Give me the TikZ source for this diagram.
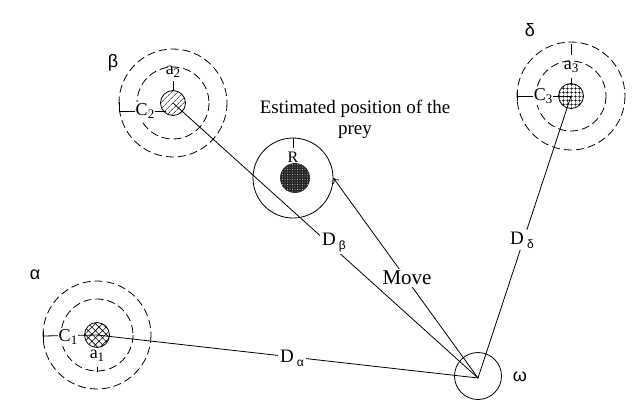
\documentclass[tikz,border=0pt]{standalone}
\usepackage{fontspec}
\setmainfont{Liberation Serif}
\newfontfamily\grfont{Liberation Sans}
\usetikzlibrary{patterns.meta,arrows.meta}
\begin{document}
\begin{tikzpicture}[x=1pt,y=-1pt, line width=0.8pt,
  dashring/.style={draw, dash pattern=on 8pt off 4pt},
  core/.style={circle, draw, minimum size=25pt, inner sep=0pt},
  lbl/.style={inner sep=1pt, font=\fontsize{18}{20}\selectfont},
  clbl/.style={fill=white, inner sep=1pt, font=\fontsize{18}{20}\selectfont},
  greek/.style={inner sep=0pt, font=\grfont\fontsize{18}{20}\selectfont},
  dlbl/.style={fill=white, inner sep=2pt, font=\fontsize{19}{21}\selectfont}]
\useasboundingbox (0,0) rectangle (640,412);
\newcommand{\sbs}[1]{\raisebox{-3.5pt}{\fontsize{13}{14}\selectfont #1}}
\newcommand{\gsbs}[1]{\raisebox{-4pt}{\grfont\fontsize{12}{13}\selectfont #1}}

% dashed rings
\draw[dashring] (173,103) circle[radius=36] (173,103) circle[radius=54];
\draw[dashring] (571,96) circle[radius=35] (571,96) circle[radius=54];
\draw[dashring] (97,335) circle[radius=36] (97,335) circle[radius=54];

% cores
\node[core, pattern={Lines[angle=45,distance=4pt,line width=0.6pt]}] (b) at (173,103) {};
\node[core, pattern={Hatch[angle=0,distance=4pt,line width=0.6pt]}] (d) at (571,96) {};
\node[core, pattern={Hatch[angle=45,distance=5pt,line width=0.6pt]}] (a) at (97,335) {};

% prey
\node[circle, draw, minimum size=80pt, inner sep=0pt] (p) at (293,178) {};
\fill[black!85] (295,178) circle[radius=15];
\fill[pattern={Dots[distance=2.5pt,radius=0.4pt]}, pattern color=white] (295,178) circle[radius=15];

% omega
\node[circle, draw, minimum size=47pt, inner sep=0pt] (w) at (478,376) {};
\coordinate (wc) at (478,378);

% connectors
\draw (b.center) -- (wc);
\draw (d.center) -- (wc);
\draw (a.center) -- (wc);
\draw[-{To[length=5pt,width=7pt]}] (wc) -- (p.east);

% C ticks
\draw (119,102) -- (119,111) -- (166,111);
\draw (517,90) -- (517,101);
\draw (517,96) -- (d.center);
\draw (43,331) -- (43,341);
\draw (43,336) -- (a.center);

% a ticks
\draw (b.north) -- ++(0,-9);
\draw (571,44) -- (571,55);
\draw (d.north) -- ++(0,-5);
\draw (97,367) -- (97,372);
\draw (p.north) -- ++(0,10);

% labels
\node[clbl] (c2) at (145,111) {C\sbs{2}};
\node[clbl] (c3) at (543,96) {C\sbs{3}};
\node[clbl] (c1) at (68,337) {C\sbs{1}};
\node[lbl] (a2) at (173,72) {a\sbs{2}};
\node[lbl] (a3) at (571,67) {a\sbs{3}};
\node[lbl] (a1) at (97,356) {a\sbs{1}};
\node[lbl, font=\fontsize{16}{18}\selectfont] (r) at (293,157) {R};

\node[greek] (lb) at (113,63) {β};
\node[greek] (ld) at (530,30) {δ};
\node[greek] (la) at (35,275) {α};
\node[greek] (lw) at (520,377) {ω};

\node[align=center, inner sep=0pt, font=\fontsize{19}{21}\selectfont] (est) at (355,119) {Estimated position of the\\prey};

\node[dlbl] (db) at (334,243) {D\,\gsbs{β}};
\node[dlbl] (dd) at (522,240) {D\,\gsbs{δ}};
\node[dlbl] (da) at (292,358) {D\,\gsbs{α}};
\node[dlbl, font=\fontsize{21}{23}\selectfont] (mv) at (407,278) {Move};
\end{tikzpicture}
\end{document}
